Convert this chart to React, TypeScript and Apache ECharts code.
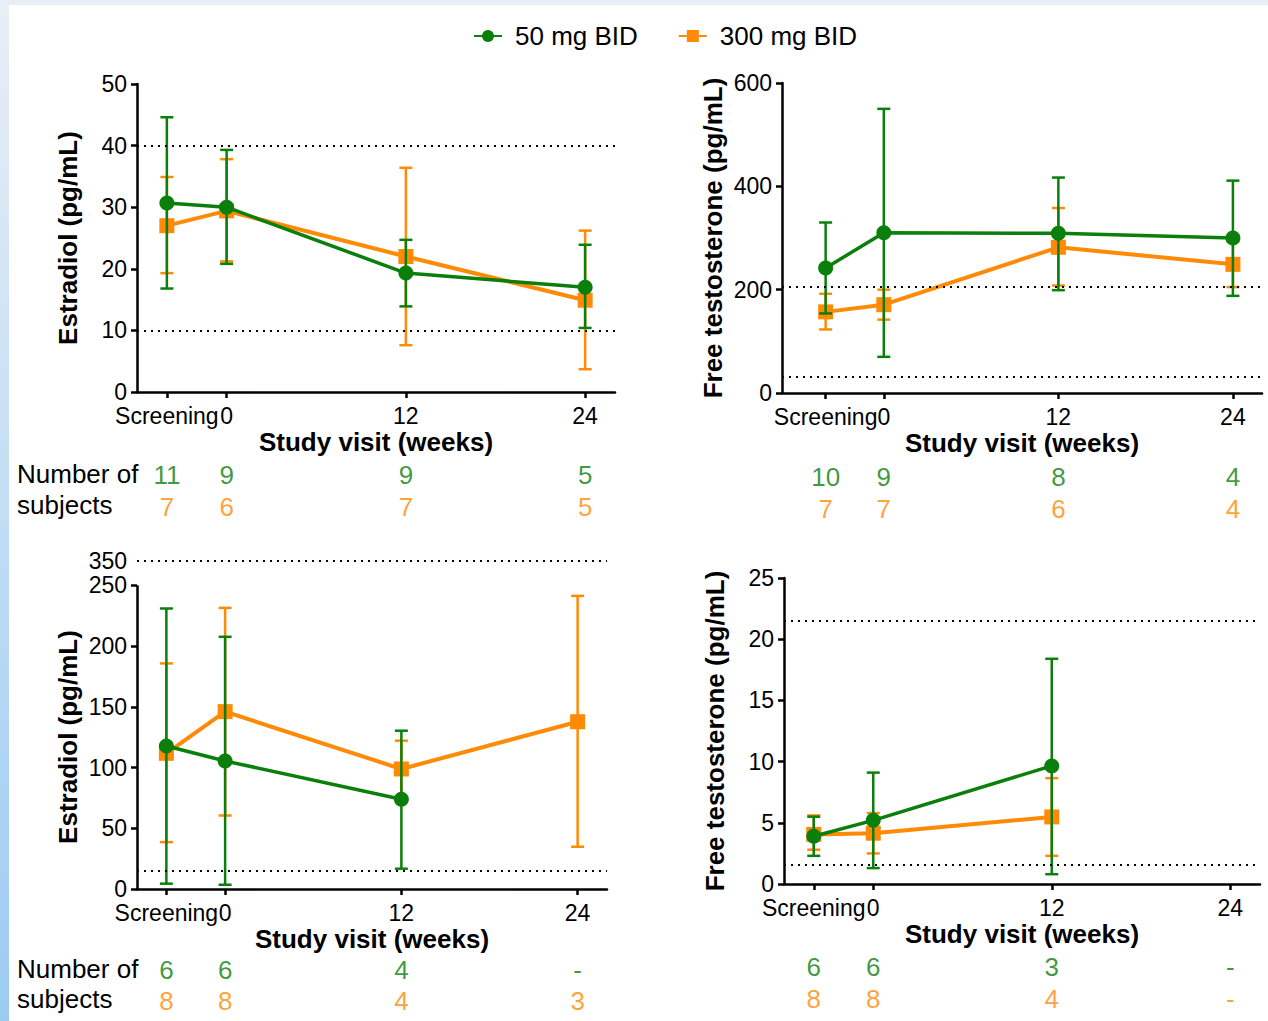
import React, { useEffect, useRef } from 'react';
import * as echarts from 'echarts';

// ---- Data ----
const weeks = [-4, 0, 12, 24]; // Screening plotted at -4
const weekLabels = ['Screening', '0', '12', '24'];
const legendNames = ['50 mg BID', '300 mg BID'];

// Panel A: Estradiol (top-left)
const estA_50_mean = [30.7, 30.0, 19.3, 17.0];
const estA_50_lo = [16.8, 20.8, 13.9, 10.4];
const estA_50_hi = [44.6, 39.3, 24.7, 23.9];
const estA_300_mean = [27.0, 29.4, 22.0, 14.9];
const estA_300_lo = [19.3, 21.2, 7.6, 3.7];
const estA_300_hi = [34.9, 37.8, 36.4, 26.2];
const estA_refs = [10, 40];
const estA_n50 = ['11', '9', '9', '5'];
const estA_n300 = ['7', '6', '7', '5'];

// Panel B: Free testosterone (top-right)
const ftA_50_mean = [242, 310, 309, 300];
const ftA_50_lo = [154, 70, 199, 188];
const ftA_50_hi = [330, 550, 417, 411];
const ftA_300_mean = [157, 171, 282, 249];
const ftA_300_lo = [123, 142, 208, 205];
const ftA_300_hi = [192, 200, 358, 293];
const ftA_refs = [32, 205];
const ftA_n50 = ['10', '9', '8', '4'];
const ftA_n300 = ['7', '7', '6', '4'];

// Panel C: Estradiol (bottom-left), axis broken above 250 (350 shown at break position)
const estB_50_mean = [117.7, 105.4, 73.9];
const estB_50_lo = [4.4, 3.5, 16.7];
const estB_50_hi = [230.9, 207.6, 130.3];
const estB_300_mean = [111.7, 146.0, 98.8, 137.7];
const estB_300_lo = [38.6, 60.5, 75.5, 34.8];
const estB_300_hi = [185.7, 231.4, 122.1, 241.3];
const estB_refs = [15];
const estB_breakRef = 350;
const estB_breakPos = 270;
const estB_ticks = [0, 50, 100, 150, 200, 250];
const estB_n50 = ['6', '6', '4', '-'];
const estB_n300 = ['8', '8', '4', '3'];

// Panel D: Free testosterone (bottom-right)
const ftB_50_mean = [3.9, 5.2, 9.65];
const ftB_50_lo = [2.3, 1.3, 0.8];
const ftB_50_hi = [5.5, 9.1, 18.4];
const ftB_300_mean = [4.05, 4.15, 5.48];
const ftB_300_lo = [2.8, 2.5, 2.3];
const ftB_300_hi = [5.6, 5.8, 8.65];
const ftB_refs = [1.6, 21.5];
const ftB_n50 = ['6', '6', '3', '-'];
const ftB_n300 = ['8', '8', '4', '-'];

// ---- Styles ----
const FONT = "'Liberation Sans', Arial, Helvetica, sans-serif";
const GREEN = '#0b7f0b';
const ORANGE = '#ff8a06';
const BLACK = '#000';
const TICK_FS = 23;
const TITLE_FS = 26;
const ROW_FS = 26;

type Panel = {
  grid: { left: number; top: number; width: number; height: number };
  xMin: number;
  xMax: number;
  yMax: number;
  yInterval?: number;
  yName: string;
  yNamePad?: number[];
  m50: number[]; lo50: number[]; hi50: number[];
  m300: number[]; lo300: number[]; hi300: number[];
  refs: number[];
  n50: string[]; n300: string[];
  countsTop: number; countsH: number;
  broken?: boolean;
};

const panels: Panel[] = [
  {
    grid: { left: 137, top: 84, width: 478, height: 308 }, xMin: -6, xMax: 26, yMax: 50, yInterval: 10,
    yName: 'Estradiol (pg/mL)',
    m50: estA_50_mean, lo50: estA_50_lo, hi50: estA_50_hi,
    m300: estA_300_mean, lo300: estA_300_lo, hi300: estA_300_hi,
    refs: estA_refs, n50: estA_n50, n300: estA_n300, countsTop: 459, countsH: 64,
  },
  {
    grid: { left: 782, top: 83, width: 480, height: 310 }, xMin: -7, xMax: 26, yMax: 600, yInterval: 200,
    yName: 'Free testosterone (pg/mL)',
    m50: ftA_50_mean, lo50: ftA_50_lo, hi50: ftA_50_hi,
    m300: ftA_300_mean, lo300: ftA_300_lo, hi300: ftA_300_hi,
    refs: ftA_refs, n50: ftA_n50, n300: ftA_n300, countsTop: 461, countsH: 64,
  },
  {
    grid: { left: 137, top: 561, width: 470, height: 328 }, xMin: -6, xMax: 26, yMax: estB_breakPos,
    yName: 'Estradiol (pg/mL)', yNamePad: [0, 24, 0, 0],
    m50: estB_50_mean, lo50: estB_50_lo, hi50: estB_50_hi,
    m300: estB_300_mean, lo300: estB_300_lo, hi300: estB_300_hi,
    refs: estB_refs, n50: estB_n50, n300: estB_n300, countsTop: 954.5, countsH: 62, broken: true,
  },
  {
    grid: { left: 784, top: 578, width: 476, height: 306 }, xMin: -6, xMax: 26, yMax: 25, yInterval: 5,
    yName: 'Free testosterone (pg/mL)',
    m50: ftB_50_mean, lo50: ftB_50_lo, hi50: ftB_50_hi,
    m300: ftB_300_mean, lo300: ftB_300_lo, hi300: ftB_300_hi,
    refs: ftB_refs, n50: ftB_n50, n300: ftB_n300, countsTop: 951, countsH: 64,
  },
];

function errorBarSeries(name: string, color: string, xi: number, yi: number, m: number[], lo: number[], hi: number[], z: number) {
  return {
    type: 'custom',
    name,
    xAxisIndex: xi,
    yAxisIndex: yi,
    z,
    silent: true,
    encode: { x: 0, y: [1, 2] },
    data: m.map((_, k) => [weeks[k], lo[k], hi[k]]),
    renderItem: (_params: any, api: any) => {
      const x = api.value(0);
      const pLo = api.coord([x, api.value(1)]);
      const pHi = api.coord([x, api.value(2)]);
      const w = 6.5;
      const style = { stroke: color, lineWidth: 2.5, fill: 'none' };
      return {
        type: 'group',
        children: [
          { type: 'line', shape: { x1: pLo[0], y1: pLo[1], x2: pHi[0], y2: pHi[1] }, style },
          { type: 'line', shape: { x1: pHi[0] - w, y1: pHi[1], x2: pHi[0] + w, y2: pHi[1] }, style },
          { type: 'line', shape: { x1: pLo[0] - w, y1: pLo[1], x2: pLo[0] + w, y2: pLo[1] }, style },
        ],
      };
    },
  };
}

function buildOption() {
  const grid: any[] = [];
  const xAxis: any[] = [];
  const yAxis: any[] = [];
  const series: any[] = [];

  panels.forEach((p) => {
    const gi = grid.length;
    grid.push({ ...p.grid, containLabel: false });
    xAxis.push({
      type: 'value', gridIndex: gi, min: p.xMin, max: p.xMax,
      axisLine: { show: true, onZero: false, lineStyle: { color: BLACK, width: 2.5 } },
      axisTick: { show: true, customValues: weeks, length: 6, lineStyle: { color: BLACK, width: 2.5 } },
      axisLabel: {
        customValues: weeks, color: BLACK, fontSize: TICK_FS, fontFamily: FONT, margin: 12,
        formatter: (v: number) => weekLabels[weeks.indexOf(v)] ?? '',
      },
      splitLine: { show: false },
      name: 'Study visit (weeks)', nameLocation: 'middle', nameGap: 37,
      nameTextStyle: { color: BLACK, fontSize: TITLE_FS, fontWeight: 'bold', fontFamily: FONT },
    });
    const yLabelValues = p.broken ? [...estB_ticks, estB_breakPos] : undefined;
    yAxis.push({
      type: 'value', gridIndex: gi, min: 0, max: p.yMax,
      ...(p.yInterval ? { interval: p.yInterval } : {}),
      axisLine: { show: !p.broken, onZero: false, lineStyle: { color: BLACK, width: 2.5 } },
      axisTick: {
        show: true, length: 6, lineStyle: { color: BLACK, width: 2.5 },
        ...(p.broken ? { customValues: estB_ticks } : {}),
      },
      axisLabel: {
        color: BLACK, fontSize: TICK_FS, fontFamily: FONT, margin: 10,
        ...(p.broken ? {
          customValues: yLabelValues,
          formatter: (v: number) => (v === estB_breakPos ? String(estB_breakRef) : String(v)),
        } : {}),
      },
      splitLine: { show: false },
      name: p.yName, nameLocation: 'middle', nameGap: 56, nameRotate: 90,
      nameTextStyle: { color: BLACK, fontSize: TITLE_FS, fontWeight: 'bold', fontFamily: FONT, padding: p.yNamePad ?? 0 },
    });

    const markData: any[] = p.refs.map((r) => ({ yAxis: r }));
    if (p.broken) {
      markData.push({ yAxis: estB_breakPos });
      markData.push([
        { coord: [p.xMin, 0], lineStyle: { type: 'solid', width: 2.5, color: BLACK } },
        { coord: [p.xMin, estB_ticks[estB_ticks.length - 1]] },
      ]);
    }

    series.push(errorBarSeries('err300', ORANGE, gi, gi, p.m300, p.lo300, p.hi300, 2));
    series.push({
      type: 'line', name: legendNames[1], xAxisIndex: gi, yAxisIndex: gi, z: 3,
      data: p.m300.map((v, k) => [weeks[k], v]),
      symbol: 'rect', symbolSize: 15, showSymbol: true,
      itemStyle: { color: ORANGE }, lineStyle: { color: ORANGE, width: 4 },
      clip: false,
      markLine: {
        silent: true, symbol: ['none', 'none'], label: { show: false },
        lineStyle: { type: [2, 5], width: 2, color: BLACK },
        data: markData,
      },
    });
    series.push(errorBarSeries('err50', GREEN, gi, gi, p.m50, p.lo50, p.hi50, 4));
    series.push({
      type: 'line', name: legendNames[0], xAxisIndex: gi, yAxisIndex: gi, z: 5,
      data: p.m50.map((v, k) => [weeks[k], v]),
      symbol: 'circle', symbolSize: 15, showSymbol: true,
      itemStyle: { color: GREEN }, lineStyle: { color: GREEN, width: 3.5 },
      clip: false,
    });

    // counts row grid
    const ci = grid.length;
    grid.push({ left: p.grid.left, width: p.grid.width, top: p.countsTop, height: p.countsH });
    xAxis.push({ type: 'value', gridIndex: ci, min: p.xMin, max: p.xMax, show: false });
    yAxis.push({ type: 'value', gridIndex: ci, min: -0.5, max: 1.5, inverse: true, show: false });
    const countLabel = (color: string) => ({
      show: true, position: 'inside', color, fontSize: ROW_FS, fontFamily: FONT,
      formatter: (q: any) => q.data[2],
    });
    series.push({
      type: 'scatter', name: 'n50', xAxisIndex: ci, yAxisIndex: ci, symbolSize: 0, silent: true,
      data: p.n50.map((s, k) => [weeks[k], 0, s]), label: countLabel(GREEN),
    });
    series.push({
      type: 'scatter', name: 'n300', xAxisIndex: ci, yAxisIndex: ci, symbolSize: 0, silent: true,
      data: p.n300.map((s, k) => [weeks[k], 1, s]), label: countLabel(ORANGE),
    });
  });

  const rowText = (text: string, y: number) => ({
    type: 'text', left: 17, top: y - 14,
    style: { text, fill: BLACK, fontSize: ROW_FS, fontFamily: FONT },
  });

  return {
    animation: false,
    backgroundColor: '#fff',
    textStyle: { fontFamily: FONT },
    legend: {
      data: legendNames, left: 468, top: 18, itemWidth: 28, itemHeight: 15, itemGap: 40,
      selectedMode: false,
      textStyle: { color: BLACK, fontSize: ROW_FS, fontFamily: FONT, padding: [0, 0, 0, 8] },
    },
    grid, xAxis, yAxis, series,
    graphic: [
      { type: 'rect', z: -10, shape: { x: 0, y: 0, width: 1268, height: 5 }, style: { fill: '#e8eef6' } },
      {
        type: 'rect', z: -10, shape: { x: 0, y: 0, width: 9, height: 1021 },
        style: {
          fill: new echarts.graphic.LinearGradient(0, 0, 0, 1, [
            { offset: 0, color: '#e8eef6' },
            { offset: 1, color: '#9ccbf2' },
          ]),
        },
      },
      rowText('Number of', 475),
      rowText('subjects', 506),
      rowText('Number of', 970),
      rowText('subjects', 1000),
    ],
  };
}

export default function App() {
  const ref = useRef<HTMLDivElement>(null);
  useEffect(() => {
    document.body.style.margin = '0';
    document.body.style.overflow = 'hidden';
    if (!ref.current) return;
    const chart = echarts.init(ref.current, undefined, { renderer: 'svg' });
    chart.setOption(buildOption() as any);
    return () => chart.dispose();
  }, []);
  return <div ref={ref} style={{ width: 1268, height: 1021 }} />;
}
